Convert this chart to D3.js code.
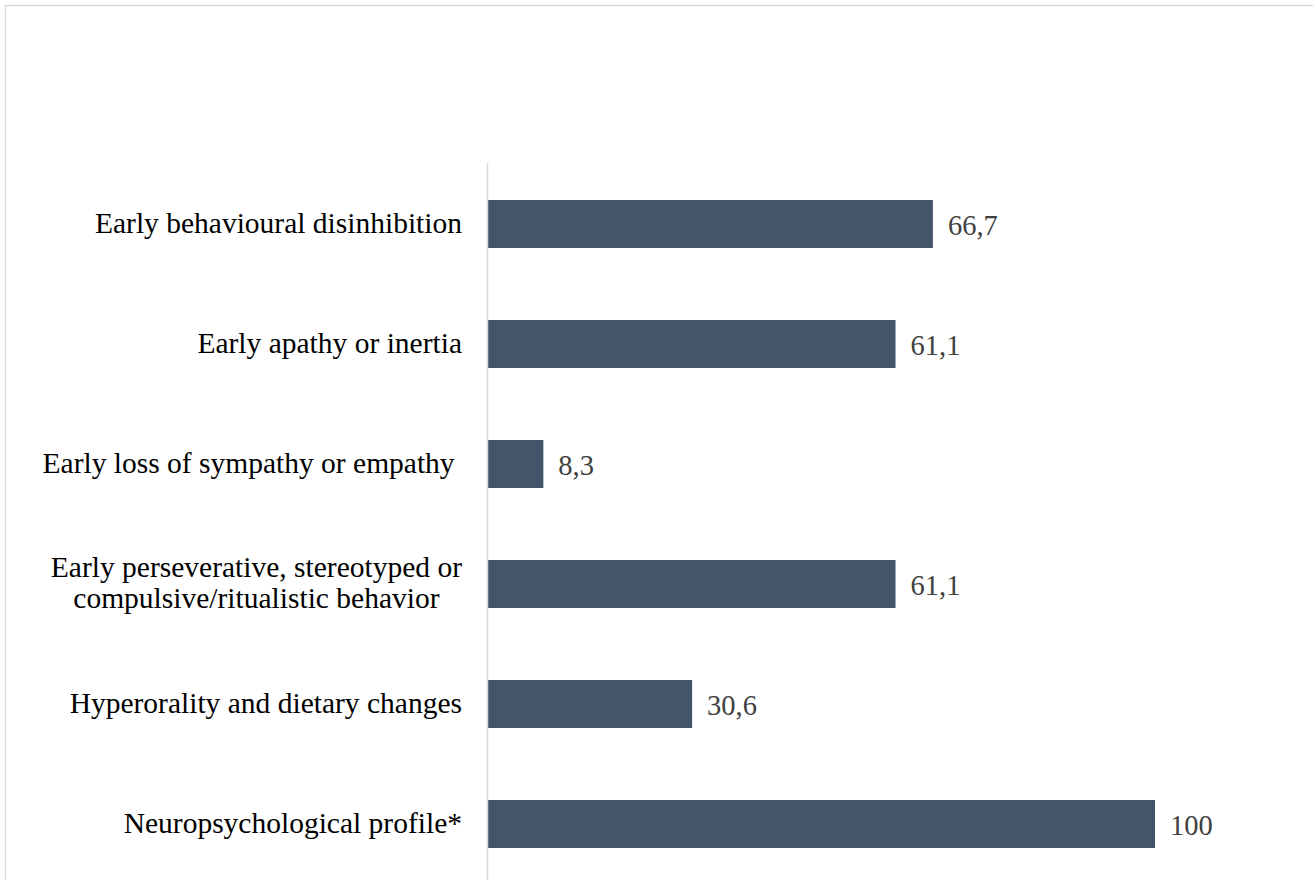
<!DOCTYPE html>
<html>
<head>
<meta charset="utf-8">
<script src="https://cdn.jsdelivr.net/npm/d3@7"></script>
<style>
  body { margin: 0; background: #fff; }
  svg text { font-family: "Liberation Serif", "Times New Roman", serif; }
</style>
</head>
<body>
<div id="chart"></div>
<script>
// categories, top to bottom
var categories = [
  ["Early behavioural disinhibition"],
  ["Early apathy or inertia"],
  ["Early loss of sympathy or empathy "],
  ["Early perseverative, stereotyped or", "compulsive/ritualistic behavior"],
  ["Hyperorality and dietary changes"],
  ["Neuropsychological profile*"]
];
var values = [66.7, 61.1, 8.3, 61.1, 30.6, 100];
var valueLabels = ["66,7", "61,1", "8,3", "61,1", "30,6", "100"];

var W = 1313, H = 880;
var margin = {top: 164, left: 488};

var data = categories.map(function(c, i) {
  return {key: i, lines: c, value: values[i], label: valueLabels[i]};
});

var svg = d3.select("#chart")
  .append("svg")
    .attr("width", W)
    .attr("height", H);

// light frame round the chart area
svg.append("path")
  .attr("d", "M5.5," + H + "V5.5H" + W)
  .attr("fill", "none")
  .attr("stroke", "#d9d9d9")
  .attr("stroke-width", 1.5);

var x = d3.scaleLinear()
  .domain([0, 100])
  .range([margin.left, 1155]);

var y = d3.scaleBand()
  .domain(data.map(function(d) { return d.key; }))
  .range([margin.top, margin.top + 720])
  .paddingInner(0.6)
  .paddingOuter(0.3);

// bars
svg.selectAll(".bar")
  .data(data)
  .enter()
  .append("rect")
    .attr("class", "bar")
    .attr("x", x(0))
    .attr("y", function(d) { return y(d.key); })
    .attr("width", function(d) { return x(d.value) - x(0); })
    .attr("height", y.bandwidth())
    .attr("fill", "#44546a");

// vertical category axis line
svg.append("line")
  .attr("x1", x(0) - 0.5)
  .attr("x2", x(0) - 0.5)
  .attr("y1", margin.top - 1)
  .attr("y2", H)
  .attr("stroke", "#d9d9d9")
  .attr("stroke-width", 1.5);

// value labels
svg.selectAll(".val")
  .data(data)
  .enter()
  .append("text")
    .attr("class", "val")
    .attr("x", function(d) { return x(d.value) + 15; })
    .attr("y", function(d) { return y(d.key) + y.bandwidth() / 2; })
    .attr("dy", "0.37em")
    .attr("fill", "#404040")
    .style("font-size", "28.5px")
    .text(function(d) { return d.label; });

// category labels
var fs = 29.5, lh = 31;
var labelRight = x(0) - 26;
var cats = svg.selectAll(".cat")
  .data(data)
  .enter()
  .append("text")
    .attr("class", "cat")
    .attr("fill", "#000")
    .style("font-size", fs + "px")
    .style("white-space", "pre")
    .attr("y", function(d) { return y(d.key) + y.bandwidth() / 2; });

cats.each(function(d) {
  var t = d3.select(this);
  var n = d.lines.length;
  if (n === 1) {
    t.attr("text-anchor", "end")
      .append("tspan")
        .attr("x", labelRight)
        .attr("dy", "0.32em")
        .text(d.lines[0]);
  } else {
    // centre multi-line labels under their widest line
    var spans = d.lines.map(function(l, i) {
      return t.append("tspan")
        .attr("dy", i === 0 ? (0.3 * fs - lh * (n - 1) / 2) : lh)
        .text(l);
    });
    var maxW = d3.max(spans, function(s) { return s.node().getComputedTextLength(); });
    t.attr("text-anchor", "middle");
    spans.forEach(function(s) { s.attr("x", labelRight - maxW / 2); });
  }
});
</script>
</body>
</html>
